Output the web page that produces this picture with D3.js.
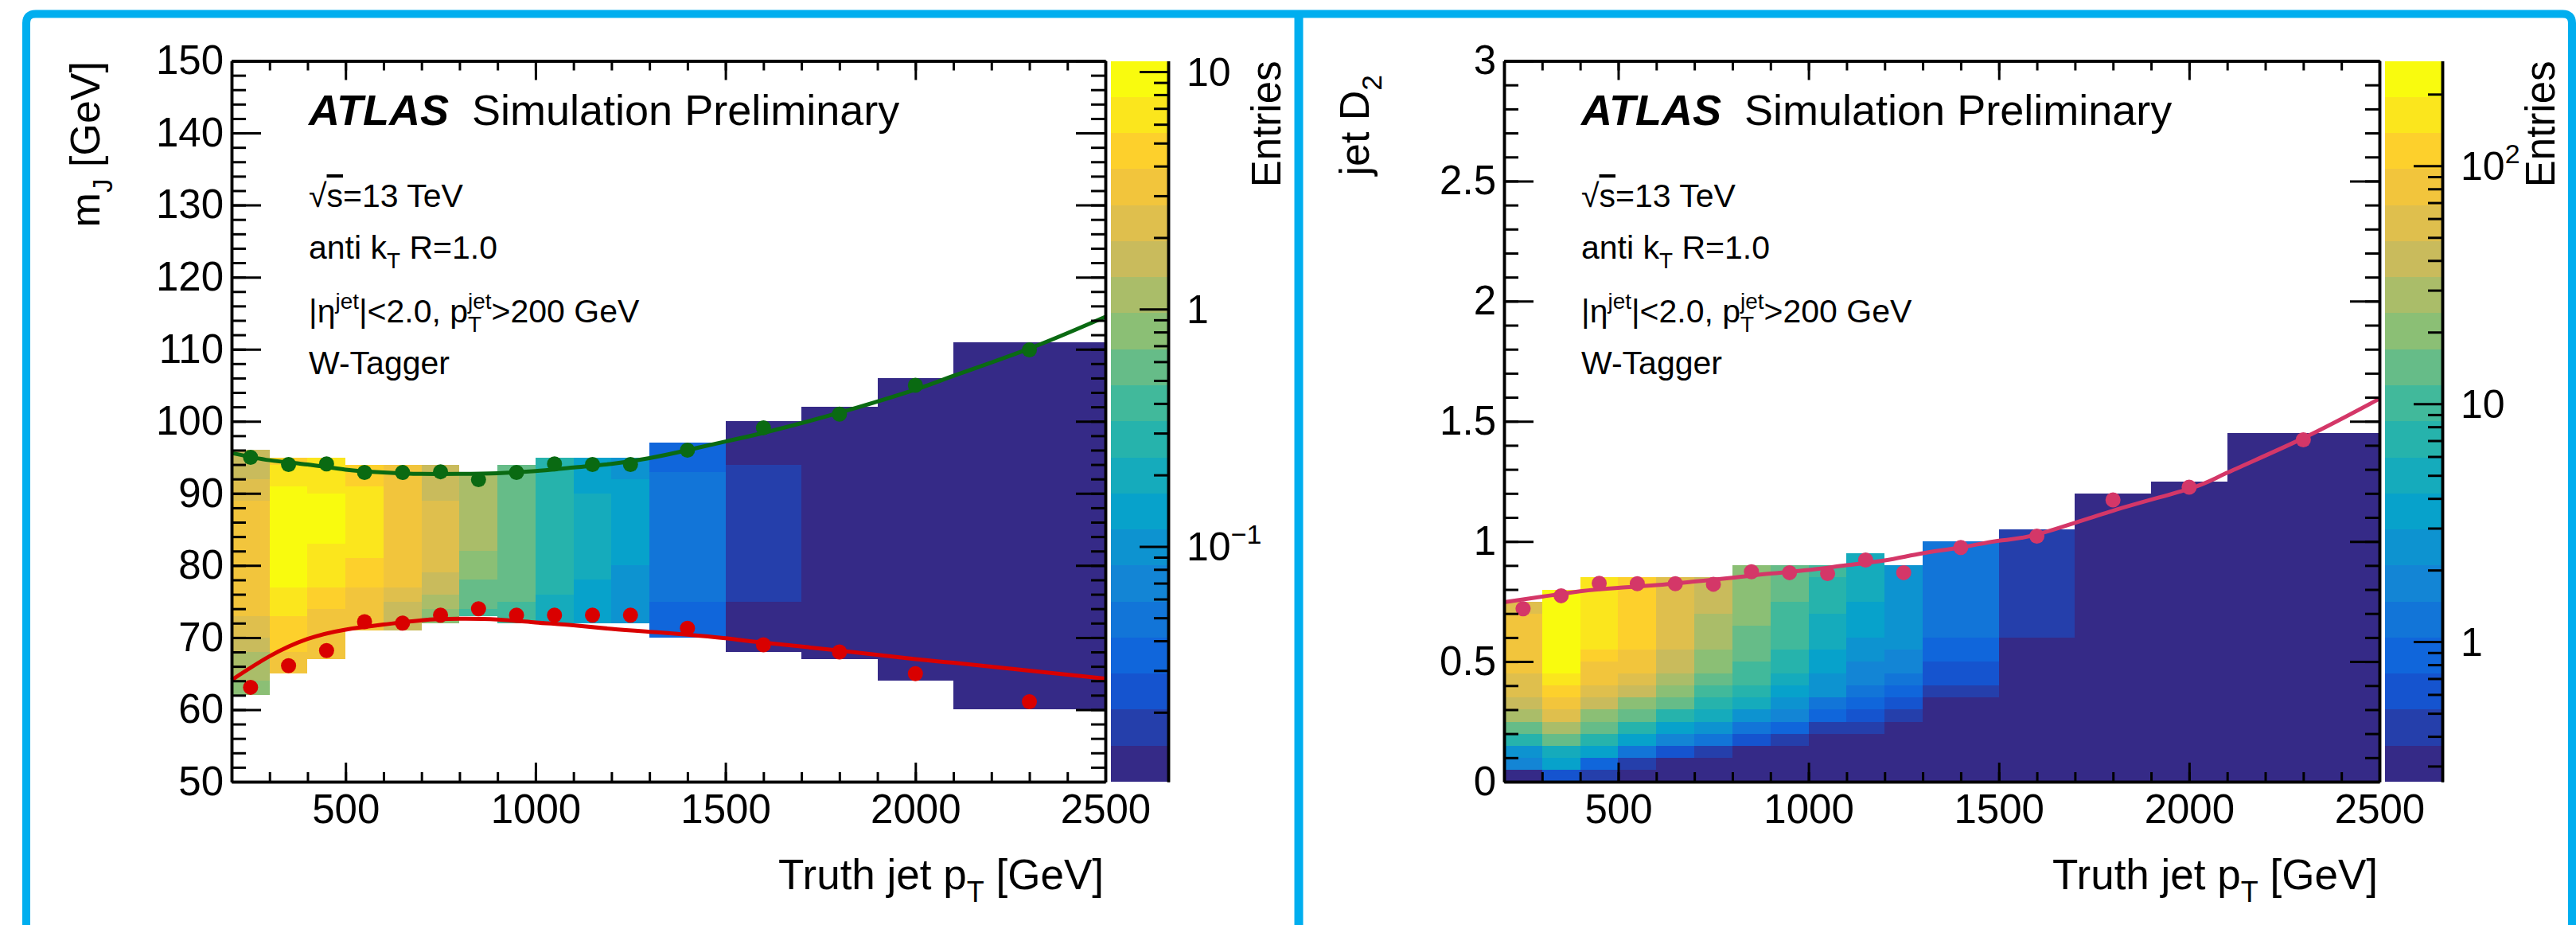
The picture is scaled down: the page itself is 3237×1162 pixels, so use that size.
<!DOCTYPE html>
<html>
<head>
<meta charset="utf-8">
<script src="https://cdn.jsdelivr.net/npm/d3@7"></script>
<style>
  html, body { margin: 0; padding: 0; background: #ffffff; }
  svg { display: block; font-family: "Liberation Sans", Arial, Helvetica, sans-serif; }
</style>
</head>
<body>
<svg id="chart"></svg>
<script>
// truth jet pT binning (GeV), shared by both plots
const ptEdges = [200, 300, 400, 500, 600, 700, 800, 900, 1000, 1100, 1200, 1300, 1500, 1700, 1900, 2100, 2500]
const ptCenters = [250, 350, 450, 550, 650, 750, 850, 950, 1050, 1150, 1250, 1400, 1600, 1800, 2000, 2300]
const ptTicks = [500, 1000, 1500, 2000, 2500]
const fitPt = [200, 300, 400, 500, 600, 700, 800, 900, 1000, 1100, 1200, 1300, 1400, 1500, 1600, 1800, 2000, 2100, 2300, 2500]

// left plot: jet mass, cells per pT bin as [m low, m high, entries]
const massCells = [
  [[62, 64, 0.8], [64, 68, 1.1], [68, 70, 1.6], [70, 73, 2.3], [73, 89, 3.3], [89, 92, 2.3], [92, 96, 1.6]],
  [[65, 68, 3.3], [68, 73, 4.6], [73, 77, 6.6], [77, 91, 9.3], [91, 94, 6.6], [94, 95, 4.6]],
  [[67, 74, 3.3], [74, 77, 4.6], [77, 83, 6.6], [83, 90, 9.3], [90, 95, 6.6]],
  [[71, 77, 3.3], [77, 81, 4.6], [81, 91, 6.6], [91, 94, 4.6]],
  [[71, 75, 1.6], [75, 77, 2.3], [77, 94, 3.3]],
  [[72, 74, 0.8], [74, 76, 1.1], [76, 79, 1.6], [79, 89, 2.3], [89, 94, 1.6]],
  [[73, 74, 0.4], [74, 78, 0.57], [78, 82, 0.8], [82, 93, 1.1]],
  [[72, 75, 0.4], [75, 94, 0.57]],
  [[72, 76, 0.2], [76, 95, 0.28]],
  [[72, 78, 0.14], [78, 90, 0.2], [90, 95, 0.14]],
  [[72, 80, 0.1], [80, 92, 0.14], [92, 95, 0.1]],
  [[70, 75, 0.035], [75, 93, 0.049], [93, 97, 0.035]],
  [[68, 75, 0.012], [75, 94, 0.017], [94, 100, 0.012]],
  [[67, 102, 0.012]],
  [[64, 106, 0.012]],
  [[60, 111, 0.012]]
]
const massUpper = [95.0, 94.0, 94.1, 92.9, 92.9, 93.0, 91.9, 92.9, 94.1, 94.0, 94.0, 96.0, 99.1, 101.0, 105.0, 109.9]
const massLower = [63.1, 66.1, 68.2, 72.2, 72.0, 73.1, 74.0, 73.1, 73.1, 73.1, 73.1, 71.3, 69.0, 68.0, 65.0, 61.1]
const massUpperFit = [95.6, 94.6, 94.0, 93.3, 92.9, 92.7, 92.7, 92.8, 93.1, 93.6, 94.1, 94.9, 96.0, 97.2, 98.4, 101.2, 104.4, 106.3, 110.1, 114.5]
const massLowerFit = [64.1, 67.4, 69.8, 71.1, 71.8, 72.4, 72.6, 72.5, 72.1, 71.7, 71.2, 70.8, 70.4, 69.9, 69.3, 68.2, 67.0, 66.5, 65.4, 64.3]
const massTicks = [50, 60, 70, 80, 90, 100, 110, 120, 130, 140, 150]
const massZRange = [0.0102, 11.1]
const massZTicks = [0.1, 1, 10]

// right plot: jet D2, cells per pT bin as [D2 low, D2 high, entries]
const d2Cells = [
  [[0, 0.05, 0.31], [0.05, 0.1, 1.74], [0.1, 0.15, 2.45], [0.15, 0.2, 7], [0.2, 0.25, 14], [0.25, 0.3, 28], [0.3, 0.35, 39], [0.35, 0.45, 56], [0.45, 0.7, 79], [0.7, 0.75, 56]],
  [[0, 0.05, 0.61], [0.05, 0.1, 3.5], [0.1, 0.15, 4.9], [0.15, 0.2, 14], [0.2, 0.25, 28], [0.25, 0.3, 56], [0.3, 0.35, 79], [0.35, 0.4, 111], [0.4, 0.45, 157], [0.45, 0.8, 227]],
  [[0, 0.05, 0.43], [0.05, 0.1, 0.87], [0.1, 0.15, 3.5], [0.15, 0.2, 7], [0.2, 0.25, 14], [0.25, 0.3, 20], [0.3, 0.35, 39], [0.35, 0.4, 56], [0.4, 0.5, 79], [0.5, 0.55, 111], [0.55, 0.85, 157]],
  [[0, 0.05, 0.31], [0.05, 0.1, 0.43], [0.1, 0.15, 1.23], [0.15, 0.2, 3.5], [0.2, 0.25, 7], [0.25, 0.3, 14], [0.3, 0.35, 20], [0.35, 0.4, 39], [0.4, 0.45, 56], [0.45, 0.55, 79], [0.55, 0.85, 111]],
  [[0, 0.1, 0.31], [0.1, 0.15, 0.61], [0.15, 0.2, 1.74], [0.2, 0.25, 3.5], [0.25, 0.3, 7], [0.3, 0.35, 14], [0.35, 0.4, 20], [0.4, 0.45, 28], [0.45, 0.55, 39], [0.55, 0.85, 56]],
  [[0, 0.1, 0.31], [0.1, 0.15, 0.43], [0.15, 0.2, 1.23], [0.2, 0.25, 2.45], [0.25, 0.3, 4.9], [0.3, 0.35, 7], [0.35, 0.4, 9.8], [0.4, 0.45, 14], [0.45, 0.55, 20], [0.55, 0.7, 28], [0.7, 0.85, 39]],
  [[0, 0.15, 0.31], [0.15, 0.2, 0.61], [0.2, 0.25, 1.23], [0.25, 0.3, 2.45], [0.3, 0.35, 4.9], [0.35, 0.4, 7], [0.4, 0.5, 9.8], [0.5, 0.65, 14], [0.65, 0.9, 20]],
  [[0, 0.15, 0.31], [0.15, 0.2, 0.43], [0.2, 0.25, 0.87], [0.25, 0.3, 1.74], [0.3, 0.35, 2.45], [0.35, 0.4, 3.5], [0.4, 0.45, 4.9], [0.45, 0.55, 7], [0.55, 0.75, 9.8], [0.75, 0.9, 14]],
  [[0, 0.2, 0.31], [0.2, 0.25, 0.43], [0.25, 0.3, 0.87], [0.3, 0.35, 1.23], [0.35, 0.45, 2.45], [0.45, 0.55, 3.5], [0.55, 0.7, 4.9], [0.7, 0.85, 7], [0.85, 0.9, 9.8]],
  [[0, 0.2, 0.31], [0.2, 0.25, 0.43], [0.25, 0.3, 0.61], [0.3, 0.35, 0.87], [0.35, 0.4, 1.23], [0.4, 0.5, 1.74], [0.5, 0.6, 2.45], [0.6, 0.75, 3.5], [0.75, 0.95, 4.9]],
  [[0, 0.25, 0.31], [0.25, 0.3, 0.43], [0.3, 0.35, 0.61], [0.35, 0.4, 0.87], [0.4, 0.45, 1.23], [0.45, 0.55, 1.74], [0.55, 0.9, 2.45]],
  [[0, 0.35, 0.31], [0.35, 0.4, 0.43], [0.4, 0.5, 0.61], [0.5, 0.6, 0.87], [0.6, 1.0, 1.23]],
  [[0, 0.6, 0.31], [0.6, 1.05, 0.43]],
  [[0, 1.2, 0.31]],
  [[0, 1.25, 0.31]],
  [[0, 1.45, 0.31]]
]
const d2Pts = [0.72, 0.774, 0.826, 0.824, 0.824, 0.822, 0.874, 0.870, 0.866, 0.923, 0.870, 0.975, 1.022, 1.173, 1.226, 1.423]
const d2Fit = [0.747, 0.770, 0.793, 0.807, 0.818, 0.833, 0.849, 0.866, 0.881, 0.901, 0.921, 0.951, 0.975, 1.003, 1.029, 1.128, 1.219, 1.286, 1.430, 1.594]
const d2Ticks = [0, 0.5, 1, 1.5, 2, 2.5, 3]
const d2ZRange = [0.258, 276]
const d2ZTicks = [1, 10, 100]

// ROOT kBird palette, 20 contour bands
const birdStops = [0, 0.125, 0.25, 0.375, 0.5, 0.625, 0.75, 0.875, 1]
const birdR = [0.2082, 0.0592, 0.0780, 0.0232, 0.1802, 0.5301, 0.8186, 0.9956, 0.9764]
const birdG = [0.1664, 0.3599, 0.5041, 0.6419, 0.7178, 0.7492, 0.7328, 0.7862, 0.9832]
const birdB = [0.5293, 0.8684, 0.8385, 0.7914, 0.6425, 0.4662, 0.3499, 0.1968, 0.0539]
const bird = d3.scaleLinear()
  .domain(birdStops)
  .range(birdStops.map((s, i) => d3.rgb(birdR[i] * 255, birdG[i] * 255, birdB[i] * 255).toString()))
  .interpolate(d3.interpolateRgb)
const nBands = 20
const bandColors = d3.range(nBands).map(k => bird(k / (nBands - 1)))

const W = 3237
const H = 1162
const plotTop = 76.5
const plotBottom = 982
const font = '"Liberation Sans", Arial, Helvetica, sans-serif'

const svg = d3.select('#chart').attr('width', W).attr('height', H)
svg.append('rect').attr('width', W).attr('height', H).attr('fill', '#ffffff')

// rich text: parts with sub/superscripts
const rich = (sel, parts, size) => {
  let shift = 0
  let prev = null
  parts.forEach(p => {
    const target = p.sub ? 0.3 * size : p.sup ? -0.42 * size : 0
    const ts = sel.append('tspan')
      .attr('dy', target - shift)
      .attr('font-size', (p.sub || p.sup) ? size * 0.68 : size)
      .text(p.t)
    if (p.back && prev) ts.attr('dx', -prev.node().getComputedTextLength())
    if (p.over) ts.style('text-decoration', 'overline')
    shift = target
    prev = ts
  })
  return sel
}

const label = (x, y, size, parts, opts = {}) => {
  const t = svg.append('text')
    .attr('font-size', size)
    .attr('fill', '#000')
    .attr('text-anchor', opts.anchor || 'start')
  if (opts.rotate) {
    t.attr('transform', `translate(${x},${y}) rotate(-90)`)
  } else {
    t.attr('x', x).attr('y', y)
  }
  if (opts.weight) t.attr('font-weight', opts.weight)
  if (opts.italic) t.attr('font-style', 'italic')
  return rich(t, parts, size)
}

const styleAxis = (g) => {
  g.attr('font-family', font).attr('font-size', null)
  g.select('.domain').attr('stroke', '#000').attr('stroke-width', 3.5)
  g.selectAll('.tick line').attr('stroke', '#000').attr('stroke-width', 3)
  g.selectAll('.tick text').attr('fill', '#000').attr('font-size', 51)
}

const drawPanel = (cfg) => {
  const x = d3.scaleLinear().domain([200, 2500]).range([cfg.left, cfg.right])
  const y = d3.scaleLinear().domain(cfg.yDomain).range([plotBottom, plotTop])
  const color = d3.scaleQuantize()
    .domain([Math.log10(cfg.zRange[0]), Math.log10(cfg.zRange[1])])
    .range(bandColors)

  const g = svg.append('g')

  // histogram cells
  cfg.cells.forEach((col, i) => {
    g.append('g').selectAll('rect')
      .data(col)
      .join('rect')
      .attr('x', x(ptEdges[i]))
      .attr('width', x(ptEdges[i + 1]) - x(ptEdges[i]))
      .attr('y', d => y(d[1]))
      .attr('height', d => y(d[0]) - y(d[1]))
      .attr('fill', d => color(Math.log10(d[2])))
      .attr('shape-rendering', 'crispEdges')
  })

  // fits and points
  cfg.series.forEach(s => {
    g.append('path')
      .datum(s.fit)
      .attr('d', d3.line().x((d, i) => x(fitPt[i])).y(d => y(d)).curve(d3.curveNatural))
      .attr('fill', 'none')
      .attr('stroke', s.color)
      .attr('stroke-width', 5)
    g.append('g').selectAll('circle')
      .data(s.pts)
      .join('circle')
      .attr('cx', (d, i) => x(ptCenters[i]))
      .attr('cy', d => y(d))
      .attr('r', 9.5)
      .attr('fill', s.color)
  })

  // frame axes
  const xMinor = d3.range(300, 2500, 100)
  const yMinor = cfg.yMinor
  const axes = [
    [d3.axisBottom(x).tickValues(ptTicks).tickSize(-24).tickPadding(16).tickFormat(d3.format('d')), `translate(0,${plotBottom})`],
    [d3.axisBottom(x).tickValues(xMinor).tickSize(-12).tickFormat(''), `translate(0,${plotBottom})`],
    [d3.axisTop(x).tickValues(ptTicks).tickSize(-24).tickFormat(''), `translate(0,${plotTop})`],
    [d3.axisTop(x).tickValues(xMinor).tickSize(-12).tickFormat(''), `translate(0,${plotTop})`],
    [d3.axisLeft(y).tickValues(cfg.yTicks).tickSize(-37).tickPadding(10).tickFormat(d3.format('~g')), `translate(${cfg.left},0)`],
    [d3.axisLeft(y).tickValues(yMinor).tickSize(-18).tickFormat(''), `translate(${cfg.left},0)`],
    [d3.axisRight(y).tickValues(cfg.yTicks).tickSize(-37).tickFormat(''), `translate(${cfg.right},0)`],
    [d3.axisRight(y).tickValues(yMinor).tickSize(-18).tickFormat(''), `translate(${cfg.right},0)`]
  ]
  axes.forEach(([ax, tr]) => {
    g.append('g').attr('transform', tr).call(ax.tickSizeOuter(0)).call(styleAxis)
  })

  // colour bar
  const cbLeft = cfg.right + 7
  const cbRight = cbLeft + 72
  const band = d3.scaleLinear().domain([0, nBands]).range([plotBottom, plotTop])
  g.append('g').selectAll('rect')
    .data(bandColors)
    .join('rect')
    .attr('x', cbLeft)
    .attr('width', cbRight - cbLeft)
    .attr('y', (d, k) => band(k + 1))
    .attr('height', (d, k) => band(k) - band(k + 1))
    .attr('fill', d => d)
    .attr('shape-rendering', 'crispEdges')
  const z = d3.scaleLog().domain(cfg.zRange).range([plotBottom, plotTop])
  const zAll = z.ticks()
  const zMinor = zAll.filter(v => Math.abs(Math.log10(v) - Math.round(Math.log10(v))) > 1e-6)
  g.append('g').attr('transform', `translate(${cbRight},0)`)
    .call(d3.axisLeft(z).tickValues(zMinor).tickSize(18).tickSizeOuter(0).tickFormat(''))
    .call(styleAxis)
  g.append('g').attr('transform', `translate(${cbRight},0)`)
    .call(d3.axisLeft(z).tickValues(cfg.zTicks).tickSize(36).tickSizeOuter(0).tickFormat(''))
    .call(styleAxis)

  cfg.zTicks.forEach(v => {
    const e = Math.round(Math.log10(v))
    const parts = (e === 0 || e === 1)
      ? [{ t: String(v) }]
      : [{ t: '10' }, { t: (e < 0 ? '\u2212' + (-e) : String(e)), sup: true }]
    label(cbRight + 23, z(v) + 18, 50, parts)
  })
  label(cbRight + 141, plotTop, 51, [{ t: 'Entries' }], { rotate: true, anchor: 'end' })

  // ATLAS label block
  const tx = cfg.left + 97
  label(tx, 157, 54, [{ t: 'ATLAS' }], { weight: 'bold', italic: true })
  label(cfg.left + 302, 157, 54, [{ t: 'Simulation Preliminary' }])
  label(tx, 260, 41, [{ t: '\u221A' }, { t: 's', over: true }, { t: '=13 TeV' }])
  label(tx, 325, 41, [{ t: 'anti k' }, { t: 'T', sub: true }, { t: ' R=1.0' }])
  label(tx, 405, 41, [
    { t: '|\u03B7' }, { t: 'jet', sup: true }, { t: '|<2.0, p' },
    { t: 'T', sub: true }, { t: 'jet', sup: true, back: true }, { t: '>200 GeV' }
  ])
  label(tx, 470, 41, [{ t: 'W-Tagger' }])

  // axis titles
  label(cfg.right - 2, 1117, 53, [{ t: 'Truth jet p' }, { t: 'T', sub: true }, { t: ' [GeV]' }], { anchor: 'end' })
  label(cfg.yTitleX, cfg.yTitleY, 52, cfg.yTitle, { rotate: true, anchor: 'end' })
}

// blue panel frames
svg.append('path')
  .attr('d', 'M33,1300 V29 Q33,17.5 45,17.5 H3220 Q3232,17.5 3232,29 V1300')
  .attr('fill', 'none')
  .attr('stroke', '#00aeef')
  .attr('stroke-width', 10)
svg.append('line')
  .attr('x1', 1632).attr('x2', 1632).attr('y1', 17.5).attr('y2', 1300)
  .attr('stroke', '#00aeef')
  .attr('stroke-width', 11)

drawPanel({
  left: 291,
  right: 1389,
  yDomain: [50, 150],
  yTicks: massTicks,
  yMinor: d3.range(52, 150, 2),
  cells: massCells,
  zRange: massZRange,
  zTicks: massZTicks,
  series: [
    { pts: massUpper, fit: massUpperFit, color: '#0a6a12' },
    { pts: massLower, fit: massLowerFit, color: '#d90000' }
  ],
  yTitle: [{ t: 'm' }, { t: 'J', sub: true }, { t: ' [GeV]' }],
  yTitleX: 125,
  yTitleY: 77
})

drawPanel({
  left: 1890,
  right: 2990,
  yDomain: [0, 3],
  yTicks: d2Ticks,
  yMinor: d3.range(1, 30).map(i => i / 10),
  cells: d2Cells,
  zRange: d2ZRange,
  zTicks: d2ZTicks,
  series: [
    { pts: d2Pts, fit: d2Fit, color: '#d43768' }
  ],
  yTitle: [{ t: 'jet D' }, { t: '2', sub: true }],
  yTitleX: 1720,
  yTitleY: 94
})
</script>
</body>
</html>
